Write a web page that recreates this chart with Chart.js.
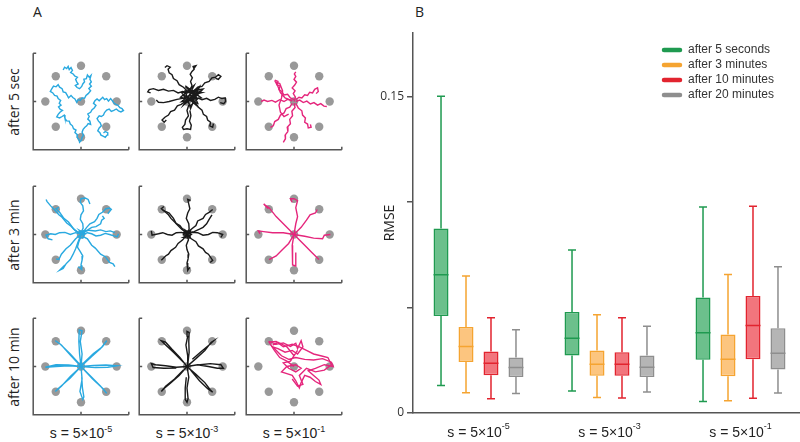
<!DOCTYPE html>
<html>
<head>
<meta charset="utf-8">
<script src="https://cdn.jsdelivr.net/npm/chart.js@4.4.0/dist/chart.umd.min.js"></script>
<style>
body { margin:0; background:#fff; overflow:hidden; width:800px; height:442px; position:relative; font-family:"Open Sans", sans-serif; color:#222; }
canvas { position:absolute; }
.lbl { position:absolute; white-space:nowrap; }
.panel { font-size:14px; }
.row { font-size:14px; transform:translate(-50%,-50%) rotate(-90deg); }
.col { font-family:"Liberation Sans", Arial, sans-serif; font-size:14px; transform:translate(-50%,-50%); }
.col sup { font-size:9px; vertical-align:6px; line-height:0; }
</style>
</head>
<body>
<div class="lbl panel" style="left:33px;top:2px">A</div>
<div class="lbl panel" style="left:415px;top:2px">B</div>
<div id="panelA"></div>
<canvas id="box" width="440" height="422" style="left:370px;top:20px"></canvas>
<script>
// ---- panel A: targets and trajectories (target radius = 1) ----
var targetX = [1, 0.707, 0, -0.707, -1, -0.707, 0, 0.707, 0];
var targetY = [0, 0.707, 1, 0.707, 0, -0.707, -1, -0.707, 0];
var rowNames = ['after 5 sec', 'after 3 min', 'after 10 min'];
var colExps = ['-5', '-3', '-1'];

var blue5s = [
  [-0.50,0.88, -0.46,0.96, -0.40,0.92, -0.36,0.98, -0.33,0.89, -0.28,0.95, -0.24,0.87, -0.29,0.81, -0.22,0.77, -0.17,0.71, -0.10,0.68, -0.15,0.62, -0.12,0.55, -0.08,0.49, -0.16,0.45, -0.11,0.39, -0.04,0.36, 0.02,0.42, 0.05,0.49, 0.10,0.55, 0.08,0.62, 0.15,0.64, 0.18,0.74, 0.23,0.68, 0.28,0.73, 0.25,0.62, 0.29,0.55, 0.24,0.49, 0.29,0.43, 0.22,0.36, 0.27,0.30, 0.20,0.22, 0.14,0.17, 0.10,0.09, 0.03,0.10, -0.02,0.03, -0.08,0.05, -0.12,-0.02, -0.17,0.07, -0.23,0.11, -0.28,0.17, -0.35,0.10, -0.39,0.18, -0.43,0.25, -0.50,0.27, -0.53,0.36, -0.60,0.40, -0.64,0.47, -0.70,0.41, -0.77,0.43, -0.82,0.35, -0.86,0.28, -0.79,0.24, -0.74,0.17, -0.67,0.15, -0.64,0.08, -0.57,0.03, -0.61,-0.05, -0.56,-0.10, -0.63,-0.15, -0.58,-0.22, -0.52,-0.25, -0.59,-0.30, -0.64,-0.36, -0.68,-0.43, -0.60,-0.46, -0.53,-0.42, -0.47,-0.38, -0.45,-0.47, -0.40,-0.54, -0.33,-0.55, -0.30,-0.63, -0.24,-0.68, -0.21,-0.76, -0.14,-0.80, -0.17,-0.87, -0.10,-0.93, -0.11,-1.00, -0.06,-1.06, -0.04,-1.14, 0.01,-1.08, 0.03,-1.00, 0.07,-0.94, 0.03,-0.86, 0.06,-0.78, 0.11,-0.72, 0.16,-0.68, 0.20,-0.62, 0.27,-0.64, 0.25,-0.55, 0.19,-0.49, 0.23,-0.42, 0.19,-0.35, 0.27,-0.30, 0.31,-0.23, 0.37,-0.18, 0.42,-0.11, 0.35,-0.05, 0.39,0.02, 0.45,0.07, 0.51,0.02, 0.56,0.07, 0.61,0.12, 0.66,0.05, 0.72,0.08, 0.77,0.01, 0.83,0.08, 0.88,0.02, 0.93,-0.05, 0.98,-0.08, 1.04,-0.11, 1.09,-0.17, 1.15,-0.20, 1.19,-0.25, 1.12,-0.29, 1.05,-0.26, 0.99,-0.21, 0.92,-0.25, 0.85,-0.28, 0.79,-0.21, 0.72,-0.24, 0.66,-0.31, 0.63,-0.38, 0.57,-0.42, 0.51,-0.40, 0.45,-0.48, 0.49,-0.55, 0.54,-0.60, 0.57,-0.68, 0.51,-0.74, 0.47,-0.82, 0.53,-0.87, 0.56,-0.94, 0.62,-0.97, 0.68,-1.00, 0.73,-0.94, 0.75,-0.87, 0.68,-0.84, 0.63,-0.88]
];
var black5s = [
  [0.00,0.25, -0.12,0.28, -0.25,0.24, -0.38,0.31, -0.52,0.29, -0.66,0.34, -0.80,0.31, -0.94,0.36, -1.06,0.33, -1.10,0.27, -1.02,0.24],
  [-0.05,0.10, -0.28,0.06, -0.50,0.00, -0.66,-0.03, -0.80,-0.02, -0.86,0.04],
  [0.00,0.30, -0.10,0.40, -0.22,0.47, -0.28,0.58, -0.38,0.64, -0.42,0.75, -0.50,0.80, -0.53,0.90, -0.47,0.96, -0.56,1.00, -0.62,0.95],
  [0.10,0.35, 0.14,0.45, 0.10,0.56, 0.15,0.66, 0.09,0.76, 0.14,0.84, 0.20,0.90, 0.17,0.98, 0.25,1.00, 0.20,0.93],
  [0.20,0.30, 0.30,0.40, 0.42,0.42, 0.50,0.52, 0.62,0.56, 0.70,0.66, 0.80,0.68, 0.88,0.75, 0.95,0.70, 0.88,0.62, 0.80,0.65],
  [0.30,0.10, 0.42,0.05, 0.55,0.09, 0.66,0.03, 0.78,0.06, 0.88,0.12, 0.98,0.08, 1.07,0.10, 1.08,0.00, 1.03,-0.06, 0.93,-0.03],
  [0.25,-0.05, 0.32,-0.16, 0.42,-0.24, 0.46,-0.36, 0.55,-0.42, 0.58,-0.52, 0.66,-0.58, 0.64,-0.68, 0.72,-0.72, 0.74,-0.62],
  [0.05,-0.10, 0.00,-0.25, 0.04,-0.40, -0.04,-0.52, -0.06,-0.64, -0.13,-0.72, -0.10,-0.78, 0.00,-0.76, 0.10,-0.78, 0.12,-0.66, 0.07,-0.55, 0.11,-0.40, 0.08,-0.25],
  [-0.05,0.00, -0.16,-0.08, -0.27,-0.12, -0.35,-0.24, -0.46,-0.28, -0.52,-0.38, -0.62,-0.44, -0.70,-0.52, -0.64,-0.58, -0.58,-0.52],
  [0.05,0.05, 0.30,0.35, -0.10,0.20, 0.25,-0.10, 0.00,0.40, 0.40,0.10, -0.15,0.00, 0.35,0.42, 0.10,-0.20, -0.05,0.30, 0.42,0.25, 0.05,0.15, 0.20,0.45, -0.18,0.12, 0.30,-0.05, 0.15,0.30, -0.10,-0.10, 0.38,0.30, 0.00,0.05, 0.22,0.20, -0.05,0.42, 0.30,0.08, 0.10,-0.12, -0.15,0.25, 0.45,0.35, 0.12,0.00, 0.28,0.25]
];
var pink5s = [
  [0.00,0.00, 0.04,0.12, -0.02,0.22, 0.03,0.30, -0.05,0.38, 0.02,0.46, 0.07,0.54, 0.00,0.62, 0.05,0.70, 0.01,0.77, 0.05,0.83],
  [0.00,0.05, -0.10,0.10, -0.18,0.20, -0.28,0.18, -0.34,0.28, -0.42,0.33, -0.39,0.43, -0.48,0.47, -0.45,0.56, -0.54,0.60],
  [-0.05,0.02, -0.25,0.10, -0.38,0.25, -0.45,0.42, -0.52,0.55, -0.40,0.50, -0.32,0.30, -0.35,0.10, -0.42,-0.10, -0.38,-0.30, -0.28,-0.42, -0.15,-0.35],
  [0.05,0.05, 0.14,0.12, 0.22,0.10, 0.30,0.19, 0.38,0.17, 0.44,0.26, 0.52,0.24, 0.58,0.34, 0.66,0.38, 0.68,0.28, 0.62,0.22],
  [0.05,0.00, 0.16,0.04, 0.26,-0.03, 0.36,0.01, 0.46,-0.07, 0.56,-0.03, 0.66,-0.10, 0.75,-0.06, 0.84,-0.13, 0.92,-0.14],
  [0.05,-0.05, 0.12,-0.18, 0.22,-0.26, 0.24,-0.38, 0.32,-0.46, 0.30,-0.58, 0.38,-0.63, 0.40,-0.74, 0.48,-0.72, 0.46,-0.64],
  [0.00,-0.05, 0.03,-0.17, -0.06,-0.27, -0.04,-0.40, -0.12,-0.50, -0.10,-0.62, -0.19,-0.72, -0.17,-0.84, -0.25,-0.94, -0.24,-1.04, -0.30,-1.14],
  [-0.05,-0.05, -0.12,-0.16, -0.22,-0.20, -0.28,-0.32, -0.38,-0.38, -0.44,-0.50, -0.54,-0.56, -0.58,-0.68, -0.66,-0.72],
  [-0.05,0.02, -0.18,0.06, -0.28,0.00, -0.40,0.05, -0.52,-0.02, -0.62,0.03, -0.74,0.00, -0.84,0.04, -0.92,0.00]
];
var blue3m = [
  [0.00,0.00, -0.15,0.10, -0.30,0.25, -0.40,0.32, -0.55,0.50, -0.62,0.55, -0.75,0.70, -0.85,0.80, -0.95,0.92, -0.98,0.98],
  [0.00,0.00, -0.20,0.15, -0.35,0.35, -0.48,0.45, -0.60,0.62, -0.70,0.72, -0.62,0.76],
  [0.00,0.05, 0.06,0.18, 0.05,0.30, -0.02,0.42, 0.00,0.55, 0.07,0.66, 0.05,0.80, -0.02,0.90, 0.00,1.00, 0.12,1.02, 0.20,0.98, 0.25,0.85],
  [0.05,0.05, 0.16,0.20, 0.25,0.30, 0.38,0.36, 0.45,0.45, 0.50,0.56, 0.60,0.62, 0.70,0.72, 0.80,0.74, 0.85,0.70, 0.75,0.58],
  [0.05,0.10, 0.18,0.12, 0.30,0.20, 0.42,0.22, 0.55,0.30, 0.58,0.40, 0.65,0.45, 0.60,0.52],
  [0.05,0.00, 0.18,0.05, 0.30,0.02, 0.42,-0.04, 0.55,-0.02, 0.68,0.03, 0.80,0.00, 0.92,-0.04, 1.02,-0.06, 1.05,0.02],
  [0.05,0.05, 0.22,0.12, 0.40,0.10, 0.55,0.13, 0.70,0.08, 0.82,0.10, 0.95,0.05],
  [0.05,-0.05, 0.18,-0.12, 0.30,-0.30, 0.40,-0.38, 0.55,-0.55, 0.68,-0.62, 0.80,-0.78, 0.90,-0.82, 0.95,-0.90],
  [0.00,-0.05, -0.06,-0.20, -0.10,-0.35, -0.02,-0.48, 0.05,-0.60, 0.03,-0.72, 0.00,-0.85, 0.02,-0.98, -0.08,-0.90],
  [0.00,0.00, -0.08,-0.20, -0.15,-0.40, -0.22,-0.55, -0.30,-0.70, -0.42,-0.82, -0.50,-0.95, -0.60,-1.00, -0.45,-0.85],
  [0.00,0.00, -0.15,-0.12, -0.30,-0.30, -0.42,-0.40, -0.55,-0.55, -0.62,-0.70, -0.70,-0.68],
  [0.00,0.02, -0.15,0.05, -0.30,0.00, -0.45,0.06, -0.60,0.05, -0.72,0.00, -0.85,0.02, -0.98,-0.02, -0.92,-0.12, -0.80,-0.15],
  [-0.10,0.05, 0.10,0.10, 0.05,-0.10, -0.08,-0.05, 0.12,0.02, -0.05,0.12, 0.08,-0.04]
];
var black3m = [
  [0.00,0.00, 0.06,0.15, 0.05,0.30, -0.02,0.45, 0.02,0.60, 0.08,0.72, 0.05,0.85, 0.02,0.98, 0.10,0.95],
  [0.00,0.00, 0.12,0.15, 0.25,0.25, 0.30,0.38, 0.45,0.45, 0.52,0.56, 0.62,0.62, 0.72,0.70],
  [0.05,0.05, 0.20,0.08, 0.35,0.15, 0.45,0.20, 0.55,0.30, 0.62,0.42, 0.70,0.55],
  [0.00,0.00, 0.15,0.06, 0.30,0.05, 0.45,-0.02, 0.60,0.00, 0.72,0.06, 0.85,0.05, 1.00,0.00, 0.95,-0.08],
  [0.00,0.00, 0.12,-0.12, 0.25,-0.20, 0.32,-0.32, 0.45,-0.40, 0.52,-0.50, 0.60,-0.55, 0.72,-0.72, 0.65,-0.78],
  [0.00,0.00, 0.04,-0.15, -0.02,-0.30, 0.00,-0.42, 0.05,-0.55, 0.03,-0.68, 0.00,-0.80, 0.02,-1.00, 0.08,-0.92],
  [0.00,0.00, -0.12,-0.15, -0.25,-0.25, -0.32,-0.36, -0.45,-0.45, -0.52,-0.55, -0.60,-0.60, -0.72,-0.72],
  [0.00,0.00, -0.15,0.06, -0.30,0.05, -0.42,-0.02, -0.55,0.00, -0.68,0.05, -0.80,0.02, -0.98,-0.02, -1.00,0.10],
  [0.00,0.00, -0.10,0.12, -0.20,0.25, -0.32,0.32, -0.45,0.45, -0.52,0.55, -0.60,0.62, -0.72,0.72, -0.65,0.78],
  [0.00,0.05, -0.15,0.15, -0.30,0.30, -0.38,0.45, -0.50,0.60, -0.68,0.68],
  [-0.12,0.05, 0.10,0.12, 0.08,-0.10, -0.10,-0.08, 0.12,0.00, -0.05,0.12, 0.05,-0.05, -0.12,0.00]
];
var pink3m = [
  [0.00,0.00, 0.05,0.30, 0.10,0.50, 0.05,0.75, 0.10,0.95, 0.00,1.00, -0.10,1.00, -0.05,0.90],
  [0.00,0.00, 0.20,0.20, 0.35,0.40, 0.45,0.55, 0.60,0.60, 0.65,0.70],
  [0.00,0.00, 0.30,-0.05, 0.55,-0.10, 0.80,-0.12, 0.85,-0.02, 1.02,0.00],
  [0.00,0.00, 0.30,-0.30, 0.50,-0.50, 0.70,-0.70],
  [0.00,0.00, -0.05,-0.30, -0.05,-0.60, -0.03,-0.85, 0.05,-0.88, 0.05,-0.50],
  [0.00,0.00, -0.15,-0.25, -0.35,-0.45, -0.50,-0.60, -0.70,-0.70],
  [0.00,0.00, -0.30,0.05, -0.60,0.05, -0.85,0.08, -1.00,0.10, -0.95,0.02],
  [0.00,0.00, -0.25,0.25, -0.50,0.50, -0.70,0.75, -0.85,0.85, -0.72,0.72]
];
var blue10m = [
  [0.00,0.00, 0.03,0.35, -0.02,0.70, 0.03,1.00, -0.05,1.02, -0.06,0.70, -0.04,0.35, 0.00,0.00],
  [0.00,0.00, 0.30,0.28, 0.55,0.50, 0.72,0.72, 0.60,0.55, 0.35,0.36, 0.00,0.03],
  [0.00,0.00, 0.35,0.03, 0.70,0.04, 1.00,0.02, 0.75,-0.02, 0.40,-0.03, 0.00,0.00],
  [0.00,0.00, 0.30,-0.30, 0.55,-0.55, 0.72,-0.75, 0.62,-0.62, 0.32,-0.34, 0.00,0.00],
  [0.00,0.00, 0.03,-0.35, -0.03,-0.70, 0.05,-0.92, 0.08,-0.85, 0.04,-0.60, 0.02,-0.30],
  [0.00,0.00, -0.30,-0.28, -0.55,-0.55, -0.72,-0.70, -0.62,-0.60, -0.30,-0.32, 0.00,0.00],
  [0.00,0.00, -0.35,0.02, -0.70,0.00, -1.00,-0.02, -0.70,0.05, -0.35,0.04, 0.00,0.00],
  [0.00,0.00, -0.30,0.32, -0.55,0.60, -0.72,0.72, -0.60,0.64, -0.30,0.35, 0.00,0.02]
];
var black10m = [
  [0.00,0.00, 0.02,0.30, -0.03,0.60, 0.02,0.85, 0.00,0.98, 0.06,0.95, 0.05,0.70, 0.06,0.40, 0.02,0.05],
  [0.00,0.00, 0.25,0.22, 0.50,0.45, 0.68,0.68, 0.75,0.72, 0.62,0.60, 0.40,0.42, 0.15,0.20],
  [0.00,0.00, 0.30,0.05, 0.60,0.00, 0.85,-0.05, 1.02,-0.05, 0.95,0.05, 0.65,0.08, 0.30,0.04],
  [0.00,0.00, 0.25,-0.22, 0.50,-0.45, 0.65,-0.65, 0.72,-0.72, 0.58,-0.62, 0.35,-0.40, 0.10,-0.10],
  [0.00,0.00, 0.05,-0.30, 0.00,-0.60, 0.03,-0.90, 0.00,-1.00, -0.05,-0.92, -0.05,-0.60, -0.02,-0.30],
  [0.00,0.00, -0.22,-0.25, -0.45,-0.45, -0.65,-0.62, -0.72,-0.70, -0.60,-0.55, -0.35,-0.35, -0.10,-0.10],
  [0.00,0.00, -0.30,-0.02, -0.60,0.02, -0.88,0.05, -1.00,0.08, -0.95,-0.03, -0.65,-0.05, -0.30,-0.04],
  [0.00,0.00, -0.20,0.25, -0.42,0.48, -0.60,0.68, -0.72,0.72, -0.62,0.62, -0.38,0.40, -0.10,0.12]
];
var pink10m = [
  [-0.70,0.70, -0.50,0.62, -0.30,0.66, -0.10,0.56, 0.05,0.65, 0.10,0.50, 0.20,0.72, 0.25,0.55, 0.10,0.35, -0.05,0.45, -0.25,0.40, -0.45,0.50, -0.60,0.55, -0.35,0.30, -0.15,0.20, 0.05,0.25, 0.30,0.20, 0.55,0.18, 0.80,0.22, 1.05,0.12, 1.10,0.00, 0.85,0.05, 0.60,-0.05, 0.40,-0.12, 0.55,-0.25, 0.70,-0.38, 0.75,-0.50, 0.60,-0.42, 0.45,-0.30, 0.30,-0.25, 0.20,-0.45, 0.15,-0.60, 0.05,-0.40, -0.05,-0.25, -0.20,-0.20, -0.35,-0.15, -0.20,0.00, 0.05,0.05, 0.20,-0.05, 0.05,-0.15, -0.15,-0.05, -0.30,0.10, -0.10,0.15, 0.10,0.45, 0.00,0.30, -0.20,0.55, -0.45,0.68, -0.60,0.60],
  [0.00,0.00, -0.20,0.15, -0.40,0.25, -0.55,0.45, -0.70,0.68, -0.50,0.70, -0.30,0.55, -0.05,0.62, 0.15,0.55, 0.35,0.45, 0.55,0.35, 0.75,0.30, 0.95,0.25, 1.05,0.05, 0.85,-0.10, 0.60,-0.15, 0.35,-0.05, 0.15,-0.25, 0.25,-0.50, 0.10,-0.55, -0.05,-0.35]
];

// ---- panel B: [min, q1, median, q3, max] per group ----
var groupExps = ['-5', '-3', '-1'];
var seriesNames = ['after 5 seconds', 'after 3 minutes', 'after 10 minutes', 'after 20 minutes'];
var after5s  = [[0.0130,0.0460,0.0655,0.0874,0.1500], [0.0104,0.0272,0.0354,0.0478,0.0772], [0.0055,0.0252,0.0380,0.0547,0.0976]];
var after3m  = [[0.0096,0.0242,0.0315,0.0407,0.0649], [0.0073,0.0177,0.0231,0.0296,0.0465], [0.0058,0.0174,0.0255,0.0372,0.0656]];
var after10m = [[0.0068,0.0179,0.0236,0.0291,0.0451], [0.0071,0.0176,0.0231,0.0288,0.0451], [0.0070,0.0255,0.0414,0.0554,0.0979]];
var after20m = [[0.0092,0.0171,0.0215,0.0263,0.0394], [0.0100,0.0171,0.0217,0.0272,0.0411], [0.0095,0.0206,0.0283,0.0402,0.0693]];
var yTicks = [0, 0.05, 0.1, 0.15];
var yTickLabels = ['0', '', '', '0.15'];

var boxStats = [after5s, after3m, after10m, after20m];
var strokes = ['#1f9a50', '#f5a431', '#e2242f', '#8e8e8e'];
var fills = ['#6cc08c', '#fcc57f', '#f2757d', '#b5b5b5'];

var panels = [
  [blue5s, black5s, pink5s],
  [blue3m, black3m, pink3m],
  [blue10m, black10m, pink10m]
];
var panelColors = ['#29a9e0', '#1a1a1a', '#e5267c'];
var colX = [33, 139, 246];
var rowTop = [53, 186, 318];

var axesPlugin = {
  id: 'axes',
  beforeDatasetsDraw: function (chart) {
    var ctx = chart.ctx, a = chart.chartArea;
    var x0 = chart.scales.x.getPixelForValue(0), y0 = chart.scales.y.getPixelForValue(0);
    ctx.save();
    ctx.strokeStyle = '#555';
    ctx.lineWidth = 1.5;
    ctx.beginPath();
    ctx.moveTo(a.left, a.top); ctx.lineTo(a.left, a.bottom); ctx.lineTo(a.right, a.bottom);
    ctx.moveTo(x0, a.bottom); ctx.lineTo(x0, a.bottom - 3);
    ctx.moveTo(a.right, a.bottom); ctx.lineTo(a.right, a.bottom - 3);
    ctx.moveTo(a.left, y0); ctx.lineTo(a.left + 3, y0);
    ctx.moveTo(a.left, a.top); ctx.lineTo(a.left + 3, a.top);
    ctx.stroke();
    ctx.restore();
  }
};

var toPoints = function (flat) {
  var pts = [];
  for (var i = 0; i < flat.length; i += 2) pts.push({x: flat[i], y: flat[i + 1]});
  return pts;
};

var holder = document.getElementById('panelA');
var html = '';
for (var r = 0; r < 3; ++r) {
  html += '<div class="lbl row" style="left:13px;top:' + (rowTop[r] + 48.5) + 'px">' + rowNames[r] + '</div>';
}
for (var c = 0; c < 3; ++c) {
  html += '<div class="lbl col" style="left:' + (colX[c] + 48) + 'px;top:433px">s = 5×10<sup>' + colExps[c] + '</sup></div>';
}
holder.innerHTML = html;

var targets = targetX.map(function (v, i) { return {x: v, y: targetY[i]}; });

for (var r = 0; r < 3; ++r) {
  for (var c = 0; c < 3; ++c) {
    var cv = document.createElement('canvas');
    cv.width = 104; cv.height = 105;
    cv.style.left = (colX[c] - 4) + 'px';
    cv.style.top = (rowTop[r] - 4) + 'px';
    holder.appendChild(cv);
    var ds = [{data: targets, pointRadius: 4.2, backgroundColor: '#999', borderWidth: 0, showLine: false, order: 1}];
    panels[r][c].forEach(function (p) {
      ds.push({data: toPoints(p), showLine: true, borderColor: panelColors[c], borderWidth: 1.4,
               pointRadius: 0, tension: 0, clip: false, order: 0});
    });
    new Chart(cv, {
      type: 'scatter',
      data: {datasets: ds},
      options: {
        responsive: false, animation: false, events: [],
        layout: {padding: 4},
        plugins: {legend: {display: false}, tooltip: {enabled: false}},
        scales: {
          x: {type: 'linear', min: -1.34, max: 1.34, display: false},
          y: {type: 'linear', min: -1.35, max: 1.35, display: false}
        }
      },
      plugins: [axesPlugin]
    });
  }
}

// whiskers, medians, group labels and legend
var boxPlugin = {
  id: 'boxExtras',
  afterDatasetsDraw: function (chart) {
    var ctx = chart.ctx, ys = chart.scales.y, xs = chart.scales.x;
    ctx.save();
    ctx.lineWidth = 1.5;
    boxStats.forEach(function (stats, i) {
      var meta = chart.getDatasetMeta(i);
      ctx.strokeStyle = strokes[i];
      meta.data.forEach(function (bar, j) {
        var s = stats[j], x = bar.x, hw = bar.width / 2;
        ctx.beginPath();
        ctx.moveTo(x, ys.getPixelForValue(s[3])); ctx.lineTo(x, ys.getPixelForValue(s[4]));
        ctx.moveTo(x - 4, ys.getPixelForValue(s[4])); ctx.lineTo(x + 4, ys.getPixelForValue(s[4]));
        ctx.moveTo(x, ys.getPixelForValue(s[1])); ctx.lineTo(x, ys.getPixelForValue(s[0]));
        ctx.moveTo(x - 4, ys.getPixelForValue(s[0])); ctx.lineTo(x + 4, ys.getPixelForValue(s[0]));
        ctx.moveTo(x - hw, ys.getPixelForValue(s[2])); ctx.lineTo(x + hw, ys.getPixelForValue(s[2]));
        ctx.stroke();
      });
    });
    // group labels
    ctx.fillStyle = '#222';
    ctx.textBaseline = 'middle';
    groupExps.forEach(function (e, i) {
      var cx = xs.getPixelForValue(i), base = 's = 5×10';
      ctx.font = '14px "Liberation Sans", Arial, sans-serif';
      var w1 = ctx.measureText(base).width;
      ctx.font = '9px "Liberation Sans", Arial, sans-serif';
      var w2 = ctx.measureText(e).width;
      var x0 = cx - (w1 + w2) / 2;
      ctx.font = '14px "Liberation Sans", Arial, sans-serif';
      ctx.fillText(base, x0, 413);
      ctx.font = '9px "Liberation Sans", Arial, sans-serif';
      ctx.fillText(e, x0 + w1, 407);
    });
    // legend
    ctx.lineCap = 'round';
    ctx.lineWidth = 4.5;
    ctx.font = '12px "Liberation Sans", Arial, sans-serif';
    seriesNames.forEach(function (n, i) {
      var y = 30 + i * 15;
      ctx.strokeStyle = strokes[i];
      ctx.beginPath(); ctx.moveTo(294, y); ctx.lineTo(310, y); ctx.stroke();
      ctx.fillStyle = '#333';
      ctx.fillText(n, 318, y);
    });
    ctx.restore();
  }
};

new Chart(document.getElementById('box'), {
  type: 'bar',
  data: {
    labels: groupExps,
    datasets: seriesNames.map(function (n, i) {
      return {
        label: n,
        data: boxStats[i].map(function (s) { return [s[1], s[3]]; }),
        backgroundColor: fills[i], borderColor: strokes[i], borderWidth: 1.5, borderSkipped: false,
        categoryPercentage: 0.763, barPercentage: 0.6
      };
    })
  },
  options: {
    responsive: false, animation: false, events: [],
    layout: {padding: {top: 13, right: 4, left: 0, bottom: 0}},
    plugins: {legend: {display: false}, tooltip: {enabled: false}},
    scales: {
      x: {
        grid: {display: false}, ticks: {display: false},
        border: {color: '#555', width: 1.5},
        afterFit: function (s) { s.height = 29; }
      },
      y: {
        min: 0, max: 0.18,
        afterBuildTicks: function (s) { s.ticks = yTicks.map(function (v) { return {value: v}; }); },
        ticks: {
          callback: function (v, i) { return yTickLabels[i]; },
          font: {family: 'Open Sans', size: 12}, color: '#333', padding: 3
        },
        grid: {drawOnChartArea: false, tickLength: 6, color: '#555', lineWidth: 1.5},
        border: {color: '#555', width: 1.5},
        title: {display: true, text: 'RMSE', font: {family: 'Open Sans', size: 14}, color: '#222', padding: {top: 12, bottom: 0}},
        afterFit: function (s) { s.width = 43; }
      }
    }
  },
  plugins: [boxPlugin]
});
</script>
</body>
</html>
